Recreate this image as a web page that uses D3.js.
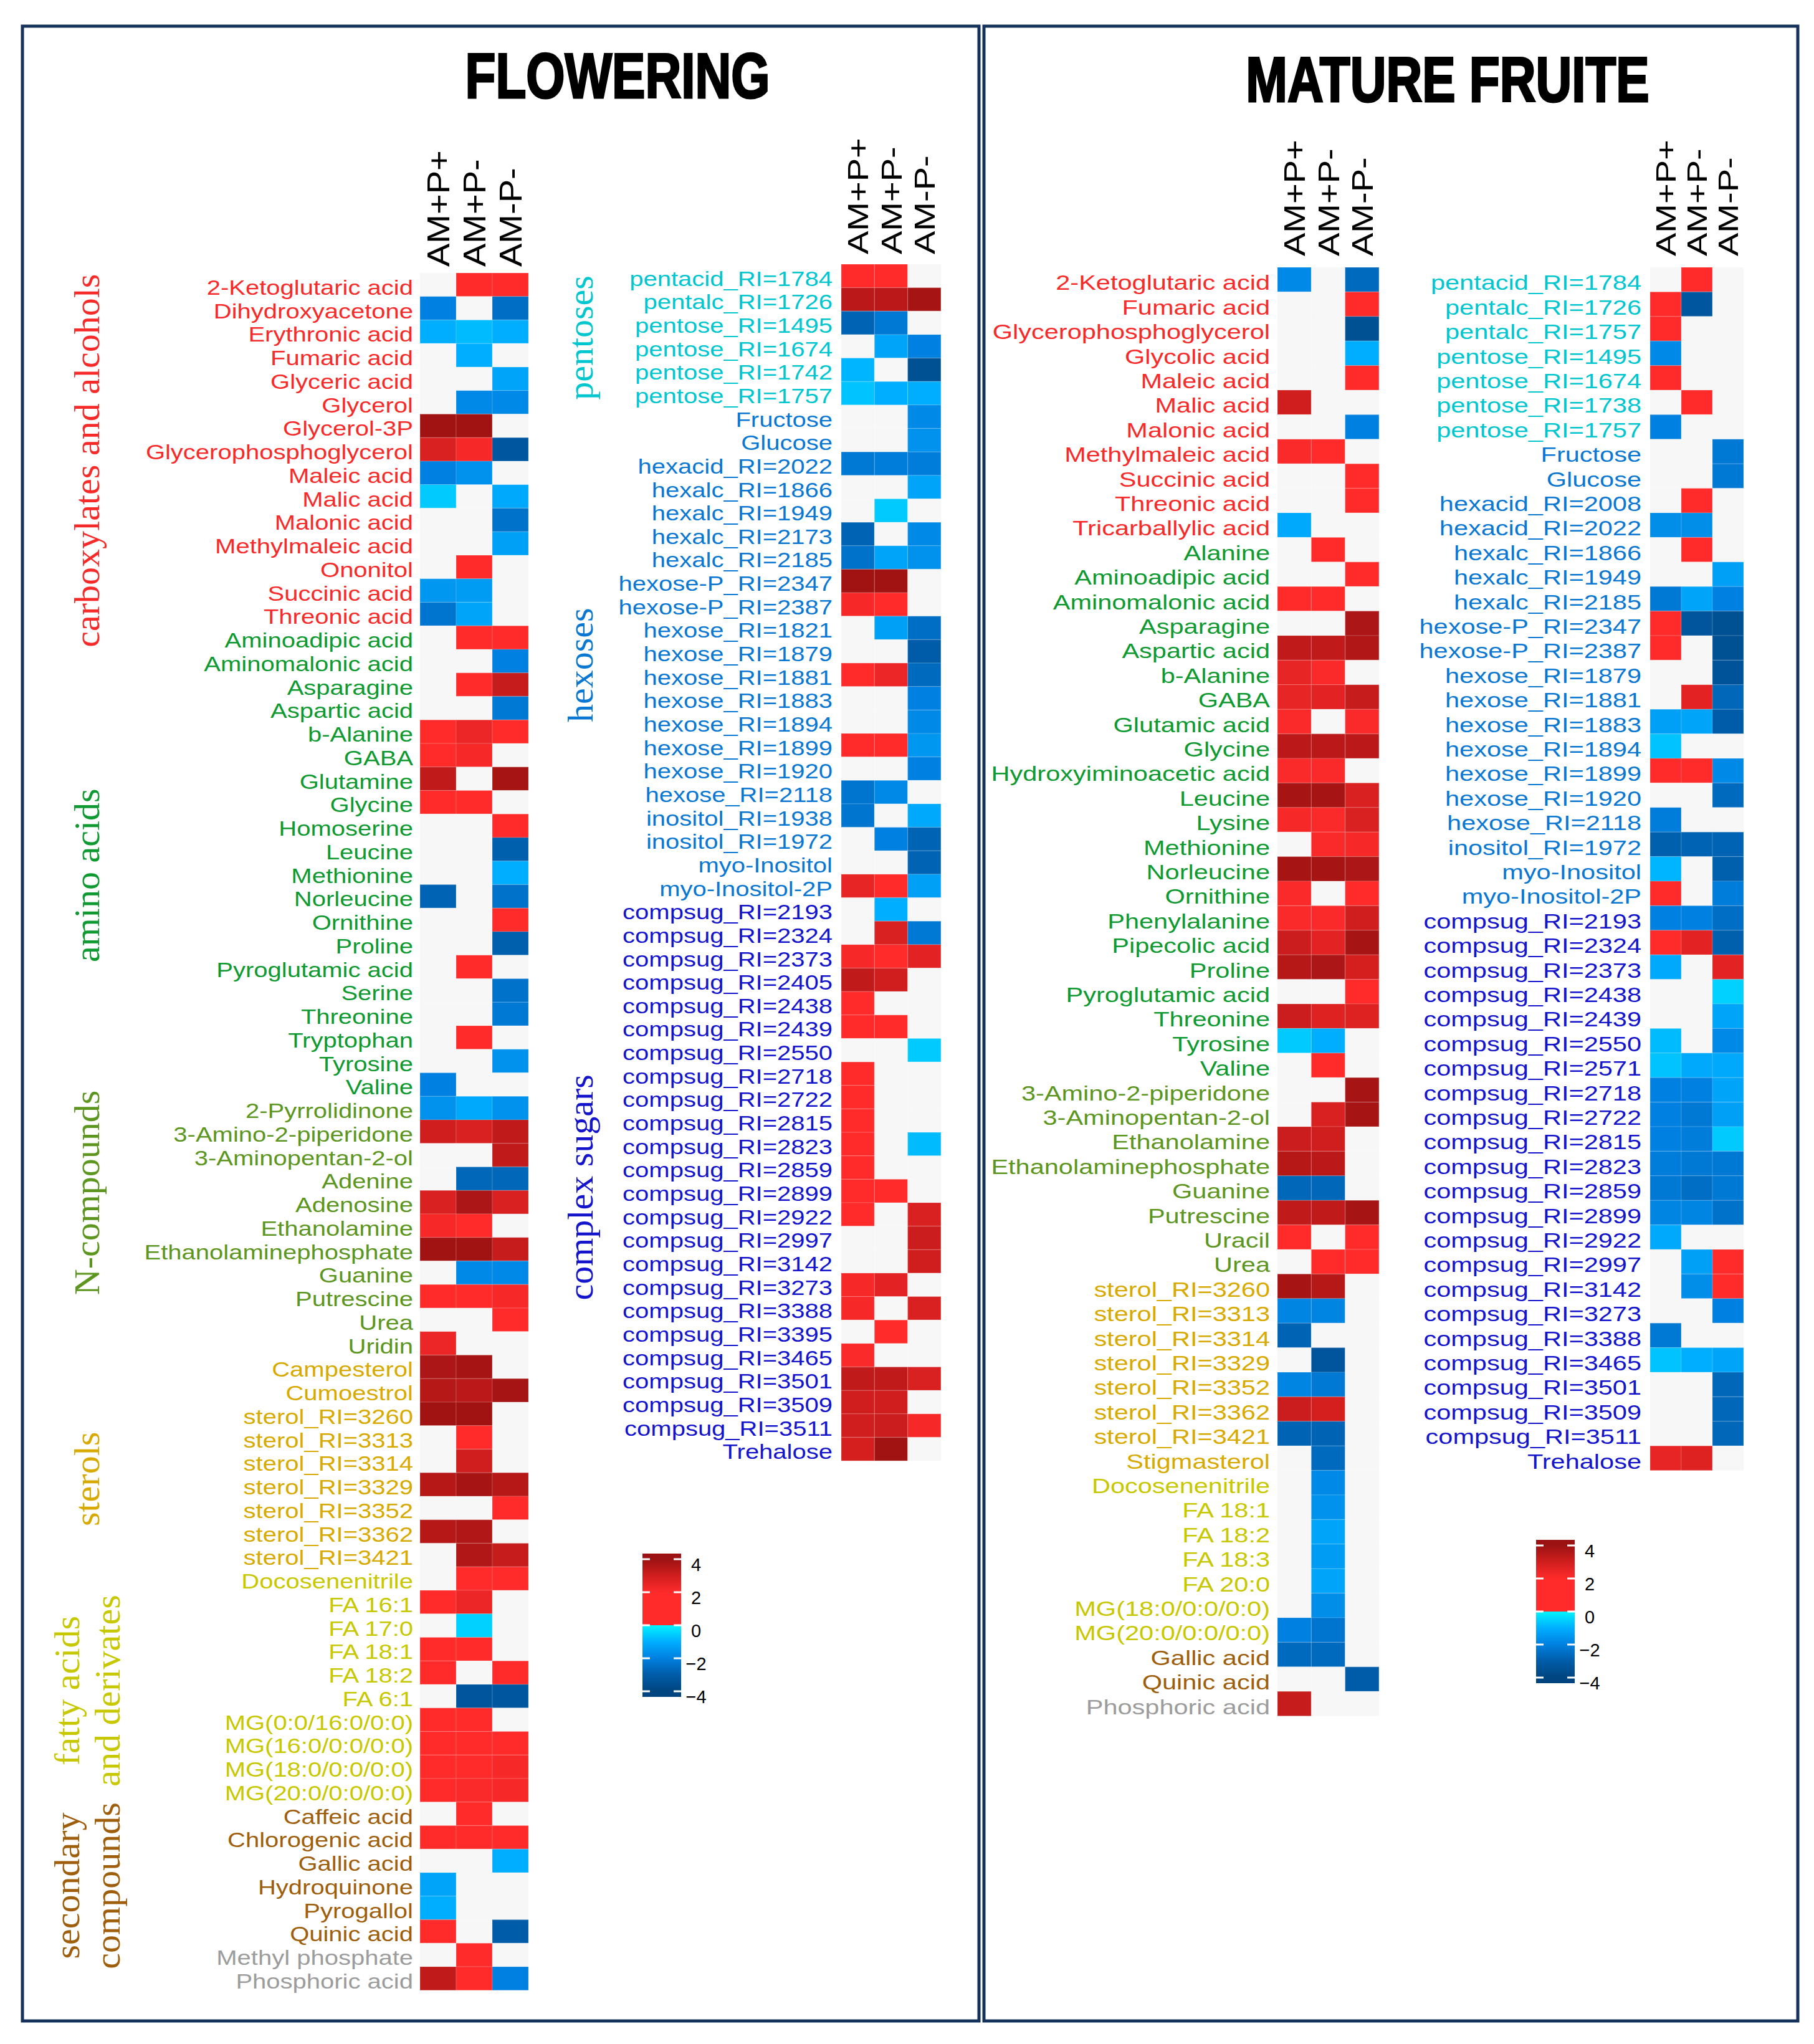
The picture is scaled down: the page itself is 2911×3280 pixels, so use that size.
<!DOCTYPE html>
<html>
<head>
<meta charset="utf-8">
<script src="https://cdnjs.cloudflare.com/ajax/libs/d3/7.8.5/d3.min.js"></script>
<style>
  html, body { margin: 0; padding: 0; background: #fff; }
  svg { display: block; }
</style>
</head>
<body>
<script>
const _ = null

const conditions = ['AM+P+', 'AM+P-', 'AM-P-']
const legendTicks = [-4, -2, 0, 2, 4]

// ---- FLOWERING, left block ----
const flowerLeftNames = [
  '2-Ketoglutaric acid', 'Dihydroxyacetone', 'Erythronic acid', 'Fumaric acid', 'Glyceric acid',
  'Glycerol', 'Glycerol-3P', 'Glycerophosphoglycerol', 'Maleic acid', 'Malic acid', 'Malonic acid',
  'Methylmaleic acid', 'Ononitol', 'Succinic acid', 'Threonic acid',
  'Aminoadipic acid', 'Aminomalonic acid', 'Asparagine', 'Aspartic acid', 'b-Alanine', 'GABA',
  'Glutamine', 'Glycine', 'Homoserine', 'Leucine', 'Methionine', 'Norleucine', 'Ornithine',
  'Proline', 'Pyroglutamic acid', 'Serine', 'Threonine', 'Tryptophan', 'Tyrosine', 'Valine',
  '2-Pyrrolidinone', '3-Amino-2-piperidone', '3-Aminopentan-2-ol', 'Adenine', 'Adenosine',
  'Ethanolamine', 'Ethanolaminephosphate', 'Guanine', 'Putrescine', 'Urea', 'Uridin',
  'Campesterol', 'Cumoestrol', 'sterol_RI=3260', 'sterol_RI=3313', 'sterol_RI=3314',
  'sterol_RI=3329', 'sterol_RI=3352', 'sterol_RI=3362', 'sterol_RI=3421',
  'Docosenenitrile', 'FA 16:1', 'FA 17:0', 'FA 18:1', 'FA 18:2', 'FA 6:1',
  'MG(0:0/16:0/0:0)', 'MG(16:0/0:0/0:0)', 'MG(18:0/0:0/0:0)', 'MG(20:0/0:0/0:0)',
  'Caffeic acid', 'Chlorogenic acid', 'Gallic acid', 'Hydroquinone', 'Pyrogallol', 'Quinic acid',
  'Methyl phosphate', 'Phosphoric acid'
]
const flowerLeftGroups = [['carb', 15], ['amino', 20], ['ncomp', 11], ['sterol', 9], ['fatty', 10], ['second', 6], ['other', 2]]
const flowerLeftValues = [
  [_, 2, 2], [-2, _, -2.5], [-1, -0.8, -1], [_, -1, _], [_, _, -1.2],
  [_, -1.8, -1.8], [3.9, 3.9, _], [2.8, 2.2, -3.2], [-2, -1.6, _], [-0.6, _, -1.1], [_, _, -2.4],
  [_, _, -1.3], [_, 2, _], [-1.5, -1.4, _], [-2.3, -1.2, _],
  [_, 2, 2], [_, _, -2], [_, 2, 3.2], [_, _, -2.2], [2, 2.4, 2], [2, 2.2, _],
  [3.3, _, 3.8], [2, 2, _], [_, _, 2], [_, _, -2.9], [_, _, -1], [-2.8, _, -2.4], [_, _, 2],
  [_, _, -2.9], [_, 2, _], [_, _, -2.4], [_, _, -2.2], [_, 2, _], [_, _, -1.6], [-2, _, _],
  [-1.6, -1.1, -1.6], [3, 2.8, 3.3], [_, _, 3.3], [_, -2.7, -2.7], [2.8, 3.7, 2.8],
  [2.2, 2, _], [3.9, 3.9, 3.2], [_, -1.8, -1.8], [2, 2, 2.2], [_, _, 2], [2.4, _, _],
  [3.7, 3.8, _], [3.5, 3.4, 3.8], [3.9, 3.9, _], [_, 2, _], [_, 3, _],
  [3.5, 3.8, 3.5], [_, _, 2], [3.5, 3.6, _], [_, 3.6, 3.2],
  [_, 2, 2], [2, 2.4, _], [_, -0.5, _], [2, 2, _], [2, _, 2], [_, -3.3, -3.2],
  [2, 2, _], [2, 2, 2], [2, 2, 2.2], [2, 2.1, 2.2],
  [_, 2, _], [2, 2, 2], [_, _, -1], [-1.2, _, _], [-1, _, _], [2, _, -3],
  [_, 2, _], [3.3, 2, -2]
]
const flowerLeftTitles = [
  ['carb', ['carboxylates and alcohols']], ['amino', ['amino acids']], ['ncomp', ['N-compounds']],
  ['sterol', ['sterols']], ['fatty', ['fatty acids', 'and derivates']], ['second', ['secondary', 'compounds']]
]

// ---- FLOWERING, right block ----
const flowerRightNames = [
  'pentacid_RI=1784', 'pentalc_RI=1726', 'pentose_RI=1495', 'pentose_RI=1674', 'pentose_RI=1742', 'pentose_RI=1757',
  'Fructose', 'Glucose', 'hexacid_RI=2022', 'hexalc_RI=1866', 'hexalc_RI=1949', 'hexalc_RI=2173', 'hexalc_RI=2185',
  'hexose-P_RI=2347', 'hexose-P_RI=2387', 'hexose_RI=1821', 'hexose_RI=1879', 'hexose_RI=1881', 'hexose_RI=1883',
  'hexose_RI=1894', 'hexose_RI=1899', 'hexose_RI=1920', 'hexose_RI=2118', 'inositol_RI=1938', 'inositol_RI=1972',
  'myo-Inositol', 'myo-Inositol-2P',
  'compsug_RI=2193', 'compsug_RI=2324', 'compsug_RI=2373', 'compsug_RI=2405', 'compsug_RI=2438', 'compsug_RI=2439',
  'compsug_RI=2550', 'compsug_RI=2718', 'compsug_RI=2722', 'compsug_RI=2815', 'compsug_RI=2823', 'compsug_RI=2859',
  'compsug_RI=2899', 'compsug_RI=2922', 'compsug_RI=2997', 'compsug_RI=3142', 'compsug_RI=3273', 'compsug_RI=3388',
  'compsug_RI=3395', 'compsug_RI=3465', 'compsug_RI=3501', 'compsug_RI=3509', 'compsug_RI=3511', 'Trehalose'
]
const flowerRightGroups = [['pent', 6], ['hex', 21], ['comp', 24]]
const flowerRightValues = [
  [2, 2, _], [3.4, 3.4, 3.8], [-2.8, -2.2, _], [_, -1.2, -2], [-0.9, _, -3.5], [-0.7, -1, -1],
  [_, _, -1.8], [_, _, -1.6], [-2.2, -2.1, -2.1], [_, _, -1.2], [_, -0.6, _], [-2.8, _, -1.8], [-2.4, -1.2, -1.6],
  [3.9, 3.9, _], [2.2, 2, _], [_, -1.3, -2.5], [_, _, -3], [2, 2.4, -2.6], [_, _, -2],
  [_, _, -1.8], [2, 2, -1.5], [_, _, -2], [-2.3, -1.8, _], [-2.3, _, -1.1], [_, -2, -2.8],
  [_, _, -2.8], [2.5, 2, -1.3],
  [_, -1, _], [_, 2.8, -2.2], [2.2, 2, 2.6], [3.3, 3, _], [2, _, _], [2, 2, _],
  [_, _, -0.6], [2, _, _], [2, _, _], [2, _, _], [2, _, -0.8], [2, _, _],
  [2, 2, _], [2, _, 2.8], [_, _, 3.1], [_, _, 3], [2.2, 2.6, _], [2.2, _, 2.8],
  [_, 2, _], [2.1, _, _], [3.3, 3.3, 2.8], [3, 3, _], [3, 3.1, 2.2], [2.9, 3.9, _]
]
const flowerRightTitles = [['pent', ['pentoses']], ['hex', ['hexoses']], ['comp', ['complex sugars']]]

// ---- MATURE FRUITE, left block ----
const matureLeftNames = [
  '2-Ketoglutaric acid', 'Fumaric acid', 'Glycerophosphoglycerol', 'Glycolic acid', 'Maleic acid', 'Malic acid',
  'Malonic acid', 'Methylmaleic acid', 'Succinic acid', 'Threonic acid', 'Tricarballylic acid',
  'Alanine', 'Aminoadipic acid', 'Aminomalonic acid', 'Asparagine', 'Aspartic acid', 'b-Alanine', 'GABA',
  'Glutamic acid', 'Glycine', 'Hydroxyiminoacetic acid', 'Leucine', 'Lysine', 'Methionine', 'Norleucine',
  'Ornithine', 'Phenylalanine', 'Pipecolic acid', 'Proline', 'Pyroglutamic acid', 'Threonine', 'Tyrosine', 'Valine',
  '3-Amino-2-piperidone', '3-Aminopentan-2-ol', 'Ethanolamine', 'Ethanolaminephosphate', 'Guanine', 'Putrescine',
  'Uracil', 'Urea',
  'sterol_RI=3260', 'sterol_RI=3313', 'sterol_RI=3314', 'sterol_RI=3329', 'sterol_RI=3352', 'sterol_RI=3362',
  'sterol_RI=3421', 'Stigmasterol',
  'Docosenenitrile', 'FA 18:1', 'FA 18:2', 'FA 18:3', 'FA 20:0', 'MG(18:0/0:0/0:0)', 'MG(20:0/0:0/0:0)',
  'Gallic acid', 'Quinic acid', 'Phosphoric acid'
]
const matureLeftGroups = [['carb', 11], ['amino', 22], ['ncomp', 8], ['sterol', 8], ['fatty', 7], ['second', 2], ['other', 1]]
const matureLeftValues = [
  [-1.8, _, -2.6], [_, _, 2], [_, _, -3.5], [_, _, -1], [_, _, 2], [3, _, _],
  [_, _, -2], [2.1, 2, _], [_, _, 2], [_, _, 2], [-1.1, _, _],
  [_, 2, _], [_, _, 2], [2, 2, _], [_, _, 3.7], [3.3, 3.3, 3.6], [2.5, 2.1, _], [2.5, 2.6, 3.2],
  [2.1, _, 2.1], [3.4, 3.4, 3.4], [2.1, 2.1, _], [3.8, 3.8, 2.8], [2.2, 2.1, 2.8], [_, 2.1, 2.2], [3.8, 3.8, 3.7],
  [2.1, _, 2], [2.1, 2.1, 3], [3.1, 2.6, 3.8], [3.5, 3.7, 2.9], [_, _, 2], [3.1, 2.7, 2.7], [-0.6, -1, _], [_, 2, _],
  [_, _, 3.8], [_, 2.8, 3.8], [3.1, 3, _], [3.5, 3.4, _], [-2.7, -2.7, _], [3.3, 3.3, 3.8],
  [2, _, 2], [_, 2, 2],
  [3.8, 3.5, _], [-1.9, -1.9, _], [-2.8, _, _], [_, -3.3, _], [-1.9, -2.2, _], [3.1, 2.9, _],
  [-2.8, -2.8, _], [_, -2.6, _],
  [_, -1.8, _], [_, -1.6, _], [_, -1.2, _], [_, -1.4, _], [_, -1.2, _], [_, -1.7, _], [-2, -2.3, _],
  [-2.6, -2.6, _], [_, _, -3], [3.2, _, _]
]

// ---- MATURE FRUITE, right block ----
const matureRightNames = [
  'pentacid_RI=1784', 'pentalc_RI=1726', 'pentalc_RI=1757', 'pentose_RI=1495', 'pentose_RI=1674', 'pentose_RI=1738',
  'pentose_RI=1757',
  'Fructose', 'Glucose', 'hexacid_RI=2008', 'hexacid_RI=2022', 'hexalc_RI=1866', 'hexalc_RI=1949', 'hexalc_RI=2185',
  'hexose-P_RI=2347', 'hexose-P_RI=2387', 'hexose_RI=1879', 'hexose_RI=1881', 'hexose_RI=1883', 'hexose_RI=1894',
  'hexose_RI=1899', 'hexose_RI=1920', 'hexose_RI=2118', 'inositol_RI=1972', 'myo-Inositol', 'myo-Inositol-2P',
  'compsug_RI=2193', 'compsug_RI=2324', 'compsug_RI=2373', 'compsug_RI=2438', 'compsug_RI=2439', 'compsug_RI=2550',
  'compsug_RI=2571', 'compsug_RI=2718', 'compsug_RI=2722', 'compsug_RI=2815', 'compsug_RI=2823', 'compsug_RI=2859',
  'compsug_RI=2899', 'compsug_RI=2922', 'compsug_RI=2997', 'compsug_RI=3142', 'compsug_RI=3273', 'compsug_RI=3388',
  'compsug_RI=3465', 'compsug_RI=3501', 'compsug_RI=3509', 'compsug_RI=3511', 'Trehalose'
]
const matureRightGroups = [['pent', 7], ['hex', 19], ['comp', 23]]
const matureRightValues = [
  [_, 2, _], [2, -3.2, _], [2, _, _], [-1.8, _, _], [2, _, _], [_, 2, _], [-2, _, _],
  [_, _, -2.2], [_, _, -2.2], [_, 2, _], [-1.7, -1.7, _], [_, 2, _], [_, _, -1.3], [-2.2, -1.2, -2],
  [2, -3.3, -3.5], [2, _, -3.5], [_, _, -3.4], [_, 2.6, -2.7], [-1.3, -1.2, -3], [-0.7, _, _],
  [2, 2, -1.8], [_, _, -2.6], [-2.1, _, _], [-2.9, -2.8, -2.8], [-0.9, _, -2.9], [2, _, -2.1],
  [-2, -2, -2.5], [2, 2.6, -2.9], [-1.1, _, 2.6], [_, _, -0.5], [_, _, -1.2], [-0.8, _, -1.8],
  [-0.7, -1.1, -1.1], [-2, -2, -1.2], [-2, -2.2, -1.3], [-2, -2.1, -0.6], [-2.1, -2.2, -2.2], [-2.2, -2.5, -2.2],
  [-1.9, -1.9, -2.4], [-1.1, _, _], [_, -1.3, 2], [_, -1.7, 2], [_, _, -2], [-2.2, _, _],
  [-0.7, -1, -1.2], [_, _, -2.7], [_, _, -2.7], [_, _, -2.7], [2.5, 2.7, _]
]

const groupColors = {
  carb: '#f72a2a', amino: '#0e9a30', ncomp: '#5c961e', sterol: '#d8aa00', fatty: '#c8c800',
  second: '#9e5e0c', other: '#9c9c9c', pent: '#00c6d0', hex: '#0a78d2', comp: '#1414cc'
}

const W = 2911, H = 3280
const sans = "'Liberation Sans', Arial, Helvetica, sans-serif"
const serif = "'Liberation Serif', 'Times New Roman', serif"

const color = d3.scaleLinear()
  .domain([-4, -3, -2, -1, 0, 0.0001, 2, 3, 4])
  .range(['#00457f', '#005ca8', '#0080e0', '#00aeff', '#00f4ff', '#ff2b2b', '#ff2b2b', '#d01e1e', '#9c1212'])
  .clamp(true)

const svg = d3.select('body').append('svg')
  .attr('width', W)
  .attr('height', H)
  .attr('viewBox', `0 0 ${W} ${H}`)

svg.append('rect').attr('width', W).attr('height', H).attr('fill', '#fff')

// panel frames
svg.append('rect')
  .attr('x', 36).attr('y', 42).attr('width', 1535).attr('height', 3201)
  .attr('fill', 'none').attr('stroke', '#14325a').attr('stroke-width', 5)
svg.append('rect')
  .attr('x', 1579).attr('y', 42).attr('width', 1306).attr('height', 3201)
  .attr('fill', 'none').attr('stroke', '#14325a').attr('stroke-width', 5)

function title(text, cx, baseline) {
  svg.append('text')
    .attr('transform', `translate(${cx},${baseline}) scale(1,1.28)`)
    .attr('text-anchor', 'middle')
    .attr('font-family', sans)
    .attr('font-weight', 'bold')
    .attr('font-size', 80)
    .attr('stroke', '#000')
    .attr('stroke-width', 2.5)
    .attr('fill', '#000')
    .text(text)
}
title('FLOWERING', 991, 157)
title('MATURE FRUITE', 2323, 163)

function expandGroups(groups) {
  return groups.flatMap(([key, n]) => d3.range(n).map(() => key))
}

// keep the reference's text length but use a font whose em box fits its row
function fitText(sel, refSize, size) {
  sel.attr('font-size', refSize)
  sel.each(function () {
    const len = this.getComputedTextLength()
    d3.select(this)
      .attr('font-size', size)
      .attr('textLength', len)
      .attr('lengthAdjust', 'spacingAndGlyphs')
  })
}

function drawPanel(p) {
  const n = p.names.length
  const rowGroup = expandGroups(p.groups)

  const x = d3.scaleBand().domain(conditions).range([p.x, p.x + 3 * p.colW])
  const y = d3.scaleBand().domain(d3.range(n)).range([p.top, p.top + n * p.rowH])

  const g = svg.append('g')

  const cells = p.values.flatMap((row, i) => row.map((v, j) => ({ i, c: conditions[j], v })))
  g.selectAll('rect.cell')
    .data(cells)
    .join('rect')
    .attr('class', 'cell')
    .attr('x', d => x(d.c))
    .attr('y', d => y(d.i))
    .attr('width', x.bandwidth())
    .attr('height', y.bandwidth())
    .attr('fill', d => d.v == null ? '#f7f7f7' : color(d.v))
    .attr('stroke', '#fff')
    .attr('stroke-opacity', 0.12)
    .attr('stroke-width', 1.5)

  // row labels
  const rows = g.append('g')
    .attr('transform', `translate(${p.x},0)`)
    .call(d3.axisLeft(y).tickSize(0).tickPadding(p.pad).tickFormat(i => p.names[i]))
  rows.select('.domain').remove()
  const rowText = rows.selectAll('text')
    .attr('dy', 0)
    .attr('y', y.bandwidth() / 2 - 3)
    .attr('font-family', sans)
    .attr('fill', d => groupColors[rowGroup[d]])
  fitText(rowText, p.font, Math.min(p.font, p.rowH / 1.16))

  // column headers
  const cols = g.append('g')
    .attr('transform', `translate(0,${p.top - p.headerGap})`)
    .call(d3.axisTop(x).tickSize(0))
  cols.select('.domain').remove()
  const colText = cols.selectAll('text')
    .attr('transform', 'rotate(-90)')
    .attr('x', 0)
    .attr('y', 0)
    .attr('dy', '0.36em')
    .attr('text-anchor', 'start')
    .attr('font-family', sans)
    .attr('fill', '#000')
  fitText(colText, 56, Math.min(56, x.bandwidth() / 1.14))

  // group titles
  if (p.titles) {
    p.titles.forEach(([key, lines]) => {
      const first = rowGroup.indexOf(key)
      const last = rowGroup.lastIndexOf(key)
      const cy = (y(first) + y(last) + y.bandwidth()) / 2 + (p.titleShift[key] || 0)
      lines.forEach((line, k) => {
        const cx = p.groupX + (k - (lines.length - 1) / 2) * 65
        g.append('text')
          .attr('transform', `translate(${cx},${cy}) rotate(-90)`)
          .attr('text-anchor', 'middle')
          .attr('dy', '0.23em')
          .attr('font-family', serif)
          .attr('font-size', 58)
          .attr('fill', groupColors[key])
          .text(line)
      })
    })
  }
}

drawPanel({ names: flowerLeftNames, groups: flowerLeftGroups, values: flowerLeftValues, titles: flowerLeftTitles,
  x: 674, colW: 58, top: 438, rowH: 37.75, font: 40, pad: 11, headerGap: 10, groupX: 146,
  titleShift: { carb: 18, amino: 23, ncomp: -53, sterol: 29, fatty: 10, second: 21 } })
drawPanel({ names: flowerRightNames, groups: flowerRightGroups, values: flowerRightValues, titles: flowerRightTitles,
  x: 1350, colW: 53.3, top: 424, rowH: 37.65, font: 40, pad: 14, headerGap: 16, groupX: 938,
  titleShift: { pent: 5, hex: 22, comp: 13 } })
drawPanel({ names: matureLeftNames, groups: matureLeftGroups, values: matureLeftValues,
  x: 2050, colW: 54.3, top: 429, rowH: 39.4, font: 41.5, pad: 12, headerGap: 18 })
drawPanel({ names: matureRightNames, groups: matureRightGroups, values: matureRightValues,
  x: 2648, colW: 50, top: 429, rowH: 39.4, font: 41.5, pad: 14, headerGap: 18 })

// colour bars
const defs = svg.append('defs')
const lim = 4.34
const grad = defs.append('linearGradient')
  .attr('id', 'legendGrad')
  .attr('x1', 0).attr('y1', 0).attr('x2', 0).attr('y2', 1)
const stopVals = [lim, 4, 3, 2, 0.0001, 0, -1, -2, -3, -4, -lim]
grad.selectAll('stop')
  .data(stopVals)
  .join('stop')
  .attr('offset', v => (lim - v) / (2 * lim))
  .attr('stop-color', v => v === 0 ? '#00f4ff' : color(v))

function drawLegend(left, zeroY) {
  const barW = 62
  const yL = d3.scaleLinear().domain([-lim, lim]).range([zeroY + 115, zeroY - 115])
  const g = svg.append('g')
  g.append('rect')
    .attr('x', left).attr('y', yL(lim))
    .attr('width', barW).attr('height', yL(-lim) - yL(lim))
    .attr('fill', 'url(#legendGrad)')
  legendTicks.forEach(t => {
    g.append('line').attr('x1', left).attr('x2', left + 12).attr('y1', yL(t)).attr('y2', yL(t))
      .attr('stroke', '#fff').attr('stroke-width', 3)
    g.append('line').attr('x1', left + barW - 12).attr('x2', left + barW).attr('y1', yL(t)).attr('y2', yL(t))
      .attr('stroke', '#fff').attr('stroke-width', 3)
  })
  const ax = g.append('g')
    .attr('transform', `translate(${left + barW + 24},0)`)
    .call(d3.axisRight(yL).tickValues(legendTicks).tickSize(0).tickPadding(0))
  ax.select('.domain').remove()
  ax.selectAll('text')
    .attr('y', 9)
    .attr('text-anchor', 'middle')
    .attr('font-family', sans)
    .attr('font-size', 29)
    .attr('fill', '#000')
}
drawLegend(1031, 2608)
drawLegend(2465, 2586)
</script>
</body>
</html>
